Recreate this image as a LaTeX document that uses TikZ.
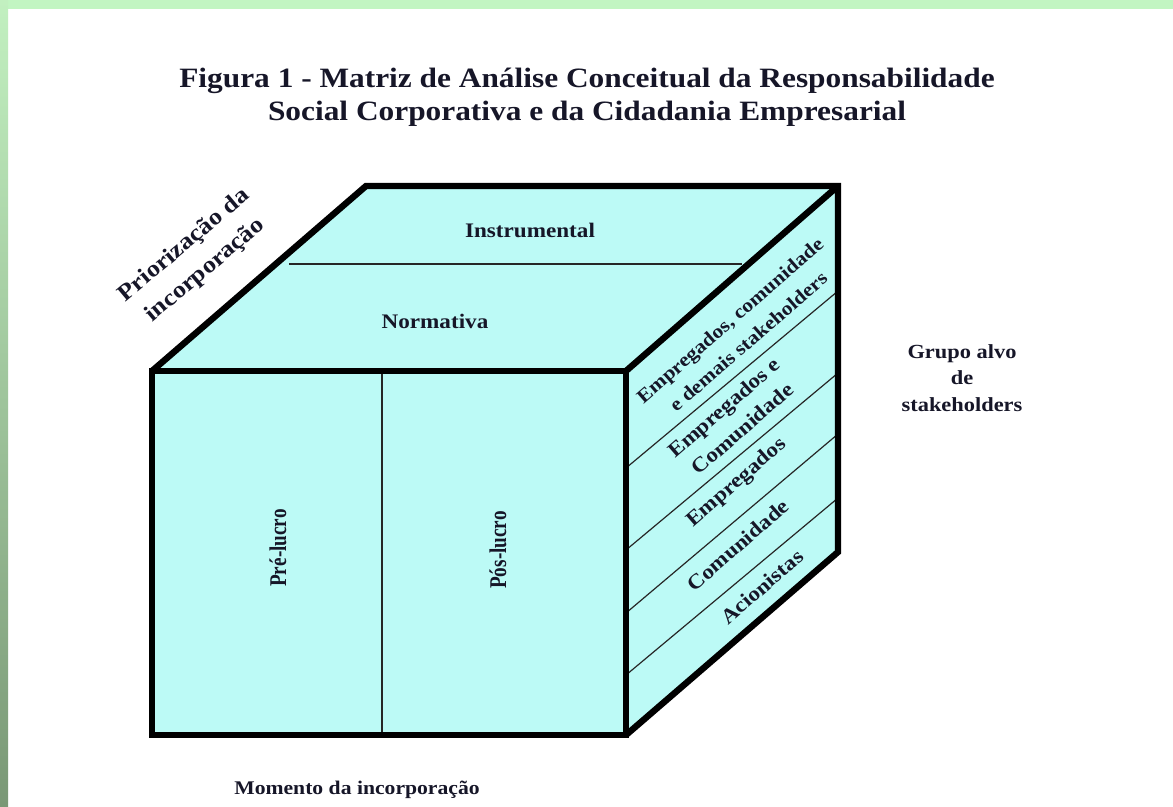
\documentclass[tikz,border=0pt]{standalone}
\usepackage{fontspec}
\setmainfont{Liberation Serif}[FakeStretch=1.12]
\newfontfamily\vertfont{Liberation Serif}[FakeStretch=0.8]
\definecolor{cubefill}{RGB}{188,250,246}
\definecolor{txt}{RGB}{22,22,40}
\definecolor{topgreen}{RGB}{194,245,194}
\definecolor{stripTop}{RGB}{194,240,192}
\definecolor{stripBot}{RGB}{122,152,118}
\tikzset{
  lbl/.style={text=txt, inner sep=0pt, align=center, font=\bfseries},
  thick edge/.style={draw=black, line width=4.8pt, line join=miter},
  thin div/.style={draw=black!85, line width=0.9pt},
}
\begin{document}
\begin{tikzpicture}[x=0.75pt,y=-0.75pt]
\useasboundingbox (0,0) rectangle (1173,806);
\fill[white] (0,0) rectangle (1173,806);
\fill[topgreen] (0,0) rectangle (1173,9);
\shade[top color=stripTop, bottom color=stripBot] (0,0) rectangle (8,806);

% cube corners
\coordinate (FTL) at (152,371);
\coordinate (FTR) at (626,371);
\coordinate (FBL) at (152,735);
\coordinate (FBR) at (626,735);
\coordinate (BTL) at (366,186);
\coordinate (BTR) at (838,186);
\coordinate (BBR) at (838,552);

% faces
\fill[cubefill] (FTL) -- (BTL) -- (BTR) -- (FTR) -- cycle;
\fill[cubefill] (FTR) -- (BTR) -- (BBR) -- (FBR) -- cycle;
\fill[cubefill] (FTL) rectangle (FBR);

% interior dividers
\coordinate (T1) at (289,264); \coordinate (T2) at (742,264);
\draw[thin div] (T1) -- (T2);
\coordinate (V1) at (382,371); \coordinate (V2) at (382,735);
\draw[thin div] (V1) -- (V2);
\coordinate (R1a) at (626,468); \coordinate (R1b) at (838,291);
\coordinate (R2a) at (626,550); \coordinate (R2b) at (838,373);
\coordinate (R3a) at (626,613); \coordinate (R3b) at (838,434);
\coordinate (R4a) at (626,675); \coordinate (R4b) at (838,498);
\draw[thin div] (R1a) -- (R1b);
\draw[thin div] (R2a) -- (R2b);
\draw[thin div] (R3a) -- (R3b);
\draw[thin div] (R4a) -- (R4b);

% thick outlines
\draw[thick edge] (FTL) -- (BTL) -- (BTR) -- (BBR) -- (FBR);
\draw[thick edge] (FTR) -- (BTR);
\draw[thick edge] (FTL) rectangle (FBR);

% title
\node[lbl, anchor=base, font=\bfseries\fontsize{21}{25}\selectfont] (title1) at (587,88) {Figura 1 - Matriz de Análise Conceitual da Responsabilidade};
\node[lbl, anchor=base, font=\bfseries\fontsize{21}{25}\selectfont] (title2) at (587,121) {Social Corporativa e da Cidadania Empresarial};

% top face labels
\node[lbl, anchor=base, font=\bfseries\fontsize{15.5}{19}\selectfont] (instr) at (530,237) {Instrumental};
\node[lbl, anchor=base, font=\bfseries\fontsize{15.5}{19}\selectfont] (norm) at (435,328) {Normativa};

% front face labels
\node[lbl, rotate=90, font=\vertfont\bfseries\fontsize{18}{20}\selectfont] (pre) at (278,548) {Pré-lucro};
\node[lbl, rotate=90, font=\vertfont\bfseries\fontsize{18}{20}\selectfont] (pos) at (498,550) {Pós-lucro};

% axis labels
\node[lbl, rotate=40, font=\bfseries\fontsize{17.5}{24.5}\selectfont] (prior) at (195,258) {Priorização da\\incorporação};
\node[lbl, font=\bfseries\fontsize{15}{20}\selectfont] (grupo) at (962,378) {Grupo alvo\\de\\stakeholders};
\node[lbl, font=\bfseries\fontsize{14.5}{19}\selectfont] (momento) at (357,790) {Momento da incorporação};

% right face labels
\node[lbl, rotate=41, font=\bfseries\fontsize{14.5}{21}\selectfont] (s5) at (739,331) {Empregados, comunidade\\e demais stakeholders};
\node[lbl, rotate=41, font=\bfseries\fontsize{15.5}{21}\selectfont] (s4) at (733,418) {Empregados e\\Comunidade};
\node[lbl, rotate=41, font=\bfseries\fontsize{15.5}{19}\selectfont] (s3) at (737,483) {Empregados};
\node[lbl, rotate=41, font=\bfseries\fontsize{15.5}{19}\selectfont] (s2) at (738,545) {Comunidade};
\node[lbl, rotate=41, font=\bfseries\fontsize{15.5}{19}\selectfont] (s1) at (762,587) {Acionistas};
\end{tikzpicture}
\end{document}
